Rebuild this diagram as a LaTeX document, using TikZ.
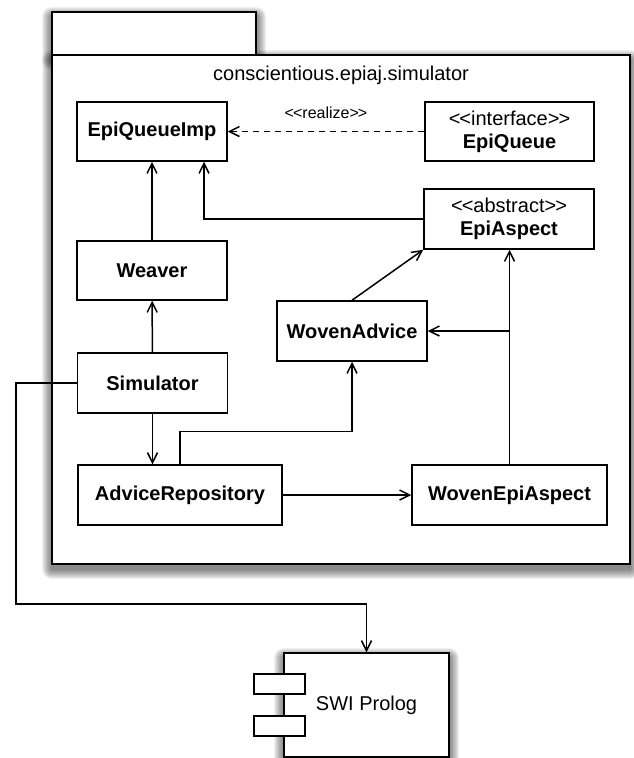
\documentclass[tikz,border=0pt]{standalone}
\usepackage{fontspec}
\setmainfont{Liberation Sans}
\usetikzlibrary{arrows.meta}
\tikzset{>={Straight Barb[length=10pt,width=10pt]}}
\newcommand{\stereo}[1]{\mbox{<}\kern-1pt\mbox{<}#1\mbox{>}\kern-1pt\mbox{>}}
% soft drop shadow under a box given by two corners
\newcommand{\softshadow}[4]{%
  \foreach \i in {1,...,10}{\fill[black,opacity=0.06,rounded corners=\i pt] (#1-\i,#2-\i+5) rectangle (#3+\i,#4+\i+5);}}

\begin{document}
\begin{tikzpicture}[x=1pt, y=-1pt, line width=1.5pt,
    cls/.style={draw, fill=white, inner sep=0pt, minimum width=150pt, minimum height=60pt,
      align=center, font=\fontsize{20}{23}\selectfont\bfseries},
    plain/.style={font=\fontsize{20}{23}\selectfont}]
		\useasboundingbox (0,0) rectangle (633,758);
		% package
		\softshadow{52}{12}{256}{55}
		\softshadow{52}{55}{630}{564}
		\node[draw, fill=white, line width=1.8pt, minimum width=204pt, minimum height=43pt, inner sep=0] (tab) at (154,33.5) {};
		\node[draw, fill=white, line width=1.8pt, minimum width=578pt, minimum height=509pt, inner sep=0] (pkg) at (341,309.5) {};
		\node[plain] (title) at (341,75) {conscientious.epiaj.simulator};

		% classes
		\node[cls, minimum height=59pt] (imp) at (152,131.5) {EpiQueueImp};
		\node[cls, minimum width=169pt, minimum height=59pt] (queue) at (509.5,131.5) {{\mdseries\stereo{interface}}\\EpiQueue};
		\node[cls, minimum width=170pt] (aspect) at (509,219) {{\mdseries\stereo{abstract}}\\EpiAspect};
		\node[cls, minimum height=59pt] (weaver) at (152,270.5) {Weaver};
		\node[cls] (advice) at (352,331) {WovenAdvice};
		\node[cls] (sim) at (152.5,383) {Simulator};
		\node[cls, minimum width=204pt] (repo) at (180,495) {AdviceRepository};
		\node[cls, minimum width=195pt] (wea) at (509.5,495) {WovenEpiAspect};

		% component
		\softshadow{284}{653}{449}{757}
		\node[draw, fill=white, plain, minimum width=165pt, minimum height=104pt] (swi) at (366.5,705) {SWI Prolog};
		\node[draw, fill=white, inner sep=0, minimum width=51pt, minimum height=20pt] (porta) at (279.5,684) {};
		\node[draw, fill=white, inner sep=0, minimum width=51pt, minimum height=20pt] (portb) at (279.5,726) {};

		% connectors
		\draw [->, dash pattern=on 6pt off 5pt](queue.west)--(imp.east)
		  node[midway, above=12pt, inner sep=0, font=\fontsize{16}{18}\selectfont]{\stereo{realize}};
		\draw [->](weaver)--(imp);
		\draw [->](sim)--(weaver);
		\draw [->](sim.south)--(sim.south |- repo.north);
		\draw [->](aspect.west) -| ([xshift=52pt]imp.south);
		\draw [->](advice.north)--(aspect.south west);
		\draw [->](wea.north)--(wea.north |- aspect.south);
		\coordinate (jn) at (wea.north |- advice.east);
		\draw [->](jn)--(advice.east);
		\draw [->](repo.north) -- ++(0,-33) -| (advice.south);
		\draw [->](repo.east)--(wea.west);
		\coordinate (bend) at (16,604);
		\draw [->](sim.west) -| (bend) -| (swi.north);
\end{tikzpicture}
\end{document}
